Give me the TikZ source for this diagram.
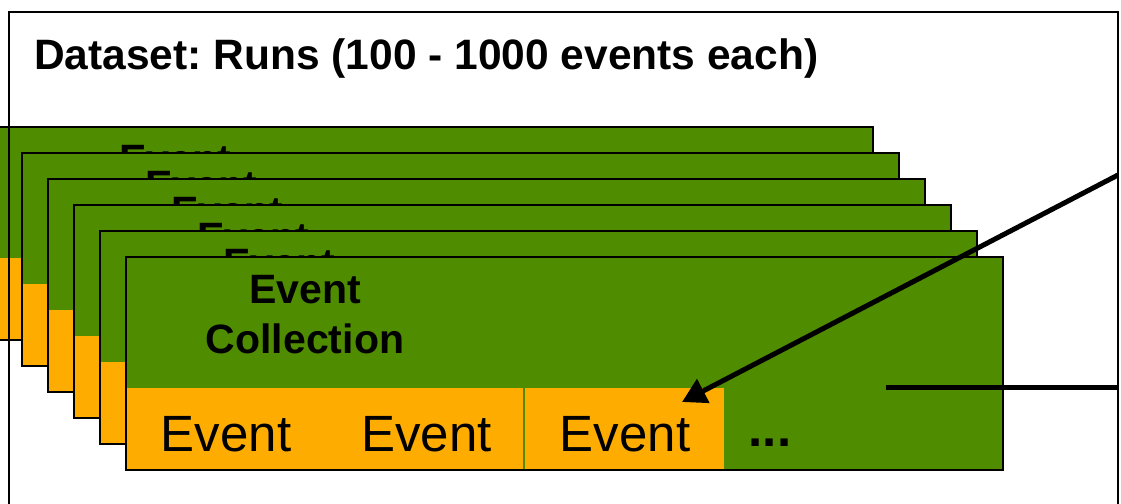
\documentclass[tikz,border=0pt]{standalone}
\usepackage{fontspec}
\setmainfont{Liberation Sans}
\usetikzlibrary{arrows.meta}
\definecolor{cardgreen}{RGB}{79,140,0}
\definecolor{cellorange}{RGB}{254,173,0}
\frenchspacing

\begin{document}
\begin{tikzpicture}[x=1pt,y=-1pt,
  cardfill/.style={fill=cardgreen,draw=none,minimum width=877pt,minimum height=213pt,inner sep=0pt,anchor=north west},
  stripfill/.style={fill=cellorange,draw=none,minimum width=598pt,minimum height=82pt,inner sep=0pt,anchor=south west},
  outline/.style={draw=black,line width=2pt},
  celltext/.style={font=\fontsize{51}{60}\selectfont,inner sep=0pt,anchor=base},
  headtext/.style={font=\bfseries\fontsize{41}{50}\selectfont,inner sep=0pt,anchor=base},
  titletext/.style={font=\bfseries\fontsize{42.5}{50}\selectfont,inner sep=0pt,anchor=base west},
  pointer/.style={line width=5pt},
]
\useasboundingbox (0,0) rectangle (1121,503);
\clip (0,0) rectangle (1121,503);
\fill[white] (0,0) rectangle (1121,503);

% stack of event collections, back to front; only the top of each
% rear card's heading stays in view
\foreach \i in {0,...,4}{
  \begin{scope}[shift={(-4+26*\i,127+26*\i)}]
    \node[cardfill] (card-\i) at (0,0) {};
    \node[stripfill] (strip-\i) at (0,213) {};
    \node[headtext] (head-\i) at (179,46) {Event};
    \draw[outline] (card-\i.north west) rectangle (card-\i.south east);
  \end{scope}
}

% front event collection
\begin{scope}[shift={(126,257)}]
  \node[cardfill] (card-5) at (0,0) {};
  \node[stripfill] (strip-5) at (0,213) {};
  \draw[cardgreen,line width=1.3pt] (398,131) -- (398,213);
  \node[headtext] (head-5-a) at (179,46) {Event};
  \node[headtext] (head-5-b) at (179,96) {Collection};
  \node[celltext] (ev-1) at (100,194) {Event};
  \node[celltext] (ev-2) at (300.5,194) {Event};
  \node[celltext] (ev-3) at (499,194) {Event};
  \node[celltext,font=\bfseries\fontsize{51}{60}\selectfont] (more) at (644,189) {...};
  \draw[outline] (card-5.north west) rectangle (card-5.south east);
\end{scope}

% dataset frame and title
\draw[line width=2.5pt] (9,540) -- (9,12) -- (1118,12) -- (1118,540);
\node[titletext] (title) at (34,70) {Dataset: Runs (100 - 1000 events each)};

% pointer lines
\coordinate (arrowfrom) at (1118,175);
\coordinate (arrowto) at (682,402);
\draw[pointer,-{Triangle[length=24pt,width=26pt]}] (arrowfrom) -- (arrowto);
\coordinate (lineA) at (886,387);
\coordinate (lineB) at (1118,387);
\draw[pointer] (lineA) -- (lineB);
\end{tikzpicture}
\end{document}
